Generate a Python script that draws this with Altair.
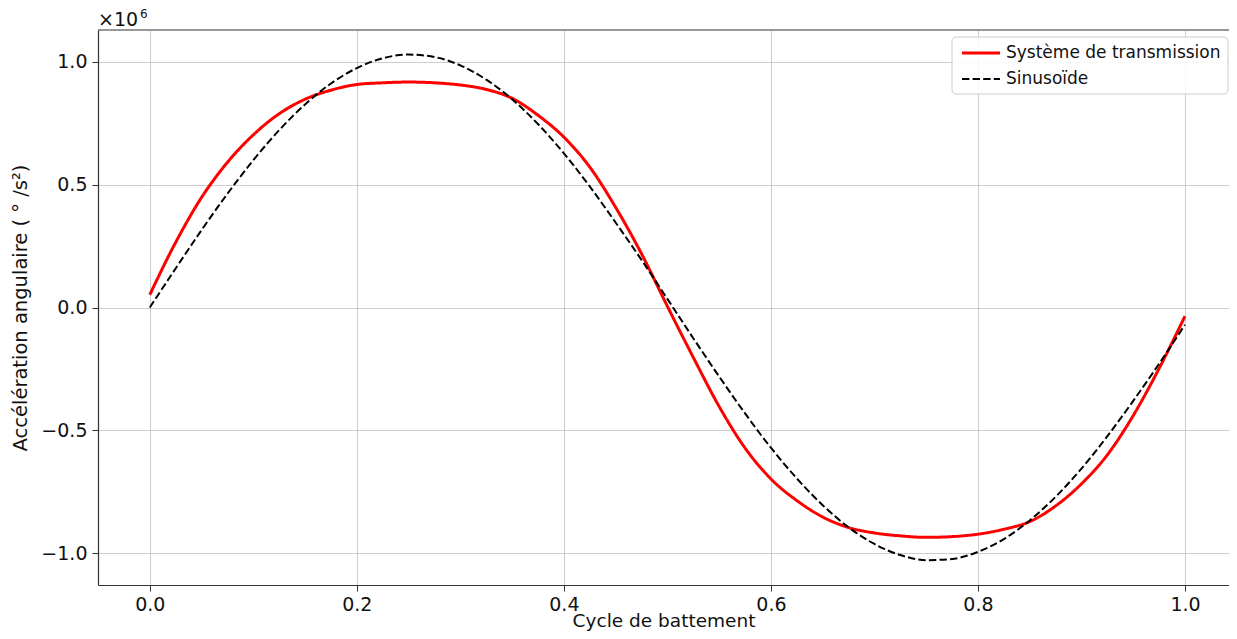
import altair as alt
import pandas as pd

cycle = [0.0, 0.025, 0.05, 0.075, 0.1, 0.125, 0.15, 0.175, 0.2, 0.225,
         0.25, 0.275, 0.3, 0.325, 0.35, 0.375, 0.4, 0.425, 0.45, 0.475,
         0.5, 0.525, 0.55, 0.575, 0.6, 0.625, 0.65, 0.675, 0.7, 0.725,
         0.75, 0.775, 0.8, 0.825, 0.85, 0.875, 0.9, 0.925, 0.95, 0.975, 1.0]

# values in units of 1e6 deg/s^2
transmission = [0.052, 0.265, 0.448, 0.591, 0.703, 0.789, 0.848, 0.885, 0.908, 0.915,
                0.918, 0.915, 0.906, 0.888, 0.852, 0.783, 0.694, 0.572, 0.408, 0.219,
                0.005, -0.203, -0.403, -0.572, -0.698, -0.786, -0.853, -0.896, -0.918, -0.930,
                -0.936, -0.933, -0.923, -0.903, -0.872, -0.808, -0.718, -0.600, -0.440, -0.248, -0.035]

sinusoide = [0.0, 0.159, 0.315, 0.463, 0.600, 0.722, 0.827, 0.912, 0.975, 1.015,
             1.030, 1.020, 0.986, 0.928, 0.848, 0.747, 0.628, 0.493, 0.346, 0.194,
             0.035, -0.125, -0.281, -0.431, -0.571, -0.696, -0.805, -0.895, -0.963, -1.008,
             -1.029, -1.024, -0.995, -0.943, -0.867, -0.771, -0.656, -0.524, -0.380, -0.229, -0.070]

series_names = ["Système de transmission", "Sinusoïde"]
series_colors = ["#ff0000", "#000000"]
x_ticks = [0.0, 0.2, 0.4, 0.6, 0.8, 1.0]
y_ticks = [-1.0e6, -0.5e6, 0.0, 0.5e6, 1.0e6]

rows = []
for i, xv in enumerate(cycle):
    rows.append({"x": xv, "y": transmission[i] * 1e6, "serie": series_names[0]})
for i, xv in enumerate(cycle):
    rows.append({"x": xv, "y": sinusoide[i] * 1e6, "serie": series_names[1]})
df = pd.DataFrame(rows)

FONT = "DejaVu Sans"
W, H = 1131, 555
DASH = [7.4, 3.2]

lines = alt.Chart(df).mark_line(interpolate="monotone", clip=True).encode(
    x=alt.X("x:Q",
            scale=alt.Scale(domain=[-0.05, 1.0425], nice=False, zero=False),
            axis=alt.Axis(values=x_ticks, format=".1f", title="Cycle de battement",
                          titleFontSize=18.5, titleFontWeight="normal",
                          titleBaseline="alphabetic", titleY=41,
                          labelFontSize=19, labelPadding=4, tickSize=6)),
    y=alt.Y("y:Q",
            scale=alt.Scale(domain=[-1.13e6, 1.13e6], nice=False, zero=False),
            axis=alt.Axis(values=y_ticks, labelExpr="replace(format(datum.value / 1e6, '.1f'), '-', '\u2212')",
                          title="Accélération angulaire ( ° /s²)",
                          titleFontSize=19.5, titleFontWeight="normal", titlePadding=10,
                          labelFontSize=19, labelPadding=5, tickSize=6)),
    color=alt.Color("serie:N", scale=alt.Scale(domain=series_names, range=series_colors), legend=None),
    strokeDash=alt.StrokeDash("serie:N", scale=alt.Scale(domain=series_names, range=[[1, 0], DASH]), legend=None),
    strokeWidth=alt.StrokeWidth("serie:N", scale=alt.Scale(domain=series_names, range=[3, 2]), legend=None),
)

one = alt.Chart(df).transform_filter("datum.x == 0 && datum.serie == 'Sinusoïde'")

top_spine = one.mark_rule(color="#333333", strokeWidth=1.2).encode(
    x=alt.value(0), x2=alt.value(W), y=alt.value(0)
)

offset_main = one.mark_text(align="left", baseline="alphabetic", fontSize=19, font=FONT, color="#111111").encode(
    x=alt.value(0), y=alt.value(-4), text=alt.value("×10")
)
offset_exp = one.mark_text(align="left", baseline="alphabetic", fontSize=12, font=FONT, color="#111111").encode(
    x=alt.value(42), y=alt.value(-12), text=alt.value("6")
)

# legend drawn by hand (matplotlib-style box)
leg_box = one.mark_rect(fill="white", fillOpacity=0.85, stroke="#cccccc", strokeWidth=1, cornerRadius=4).encode(
    x=alt.value(854), x2=alt.value(1130), y=alt.value(7), y2=alt.value(64)
)
leg_line1 = one.mark_rule(color=series_colors[0], strokeWidth=3).encode(
    x=alt.value(864), x2=alt.value(902), y=alt.value(23)
)
leg_line2 = one.mark_rule(color=series_colors[1], strokeWidth=2, strokeDash=DASH).encode(
    x=alt.value(864), x2=alt.value(902), y=alt.value(49)
)
leg_text1 = one.mark_text(align="left", baseline="middle", fontSize=17, font=FONT, color="#111111").encode(
    x=alt.value(908), y=alt.value(23), text=alt.value(series_names[0])
)
leg_text2 = one.mark_text(align="left", baseline="middle", fontSize=17, font=FONT, color="#111111").encode(
    x=alt.value(908), y=alt.value(49), text=alt.value(series_names[1])
)

chart = alt.layer(
    lines, top_spine, offset_main, offset_exp,
    leg_box, leg_line1, leg_line2, leg_text1, leg_text2
).properties(
    width=W, height=H,
    autosize=alt.AutoSizeParams(type="none"),
    padding={"left": 90, "top": 22, "right": 0, "bottom": 46},
).configure(font=FONT).configure_axis(
    grid=True, gridColor="#b0b0b0", gridWidth=0.8, gridOpacity=0.8,
    domainColor="#333333", domainWidth=1.2, tickColor="#333333",
    labelColor="#111111", titleColor="#111111", labelFont=FONT, titleFont=FONT,
).configure_view(stroke=None)

chart.save("out.html", embed_options={"renderer": "svg", "actions": False})
